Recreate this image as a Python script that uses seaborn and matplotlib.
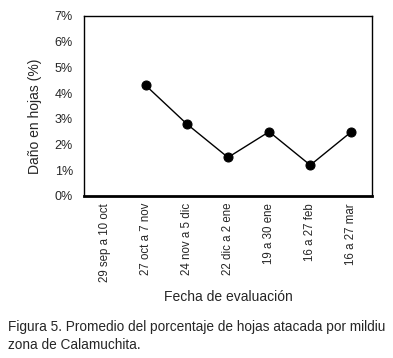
import numpy as np
import pandas as pd
import matplotlib
matplotlib.use("Agg")
import matplotlib.pyplot as plt
import seaborn as sns

# data
fechas = ["29 sep a 10 oct", "27 oct a 7 nov", "24 nov a 5 dic", "22 dic a 2 ene",
          "19 a 30 ene", "16 a 27 feb", "16 a 27 mar"]
dano = [np.nan, 4.3, 2.8, 1.5, 2.5, 1.2, 2.5]
yticks = [0, 1, 2, 3, 4, 5, 6, 7]

sns.set_style("white")
plt.rcParams['font.family'] = ['Liberation Sans', 'DejaVu Sans']

df = pd.DataFrame({"fecha": fechas, "dano": dano, "pos": range(len(fechas))})

fig = plt.figure(figsize=(3.93, 3.58), dpi=100)
ax = fig.add_axes([84 / 393, 1 - 196 / 358, 288 / 393, 180 / 358])

sub = df.dropna()
sns.lineplot(data=sub, x="pos", y="dano", color="black", linewidth=1.0, ax=ax,
             marker="o", markersize=6.5, markeredgecolor="black", markerfacecolor="black")

ax.set_xlim(-0.5, len(fechas) - 0.5)
ax.set_ylim(0, 7)
ax.set_xticks(df.pos)
ax.set_xticklabels(fechas, rotation=90, fontsize=8.3)
ax.set_yticks(yticks)
ax.set_yticklabels([f"{t}%" for t in yticks], fontsize=9)
ax.tick_params(axis="y", length=0, pad=8)
ax.tick_params(axis="x", length=0, pad=5)
ax.set_xlabel("Fecha de evaluación", fontsize=10)
ax.set_ylabel("Daño en hojas (%)", fontsize=10)
ax.xaxis.set_label_coords(0.5, -0.52)
ax.yaxis.set_label_coords(-0.145, 0.44)

for s in ax.spines.values():
    s.set_color("black")
    s.set_linewidth(1.0)
ax.spines["bottom"].set_linewidth(2.0)

fig.text(8 / 393, 1 - 327 / 358, "Figura 5. Promedio del porcentaje de hojas atacada por mildiu",
         fontsize=9.8, va="center", ha="left")
fig.text(8 / 393, 1 - 345 / 358, "zona de Calamuchita.", fontsize=9.8, va="center", ha="left")

fig.savefig("out.png", dpi=100, facecolor="white")
